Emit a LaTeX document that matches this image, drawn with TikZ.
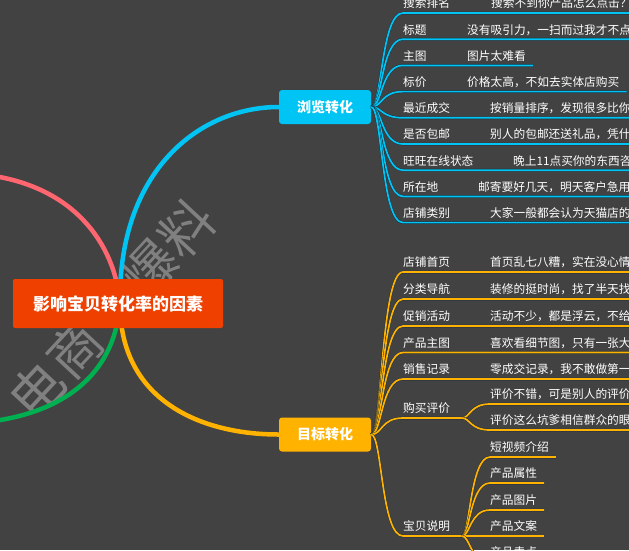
\documentclass[tikz,border=0pt]{standalone}
\usepackage{fontspec}
\setmainfont{Noto Sans CJK SC}
\usepackage{tikz}
\usetikzlibrary{positioning}
\definecolor{bggray}{RGB}{66,66,66}
\definecolor{rootred}{RGB}{239,64,0}
\definecolor{skyblue}{RGB}{0,196,244}
\definecolor{amber}{RGB}{255,178,0}
\definecolor{rosered}{RGB}{255,102,112}
\definecolor{leafgreen}{RGB}{0,176,80}
\definecolor{markgray}{RGB}{140,140,140}
\definecolor{lineedge}{RGB}{24,44,58}

\begin{document}
\begin{tikzpicture}[
x=1pt, y=-1pt,
every node/.style={font=\fontsize{11.7}{14}\selectfont, text=white},
root/.style={rectangle, rounded corners=2pt, fill=rootred, minimum width=210pt, minimum height=49pt, font=\fontsize{17}{20}\selectfont\bfseries},
topic/.style={rectangle, rounded corners=3pt, minimum width=92pt, minimum height=34pt, font=\fontsize{14}{16}\selectfont\bfseries},
item/.style={anchor=south west, inner xsep=0pt, inner ysep=3pt, text height=9pt, text depth=2pt},
wmark/.style={font=\fontsize{53}{53}\selectfont, text=markgray, rotate=47, text opacity=0.85},
trunk/.style={line width=4.5pt},
twig/.style={draw=lineedge, line width=0.4pt, double distance=1.7pt},
blueline/.style={twig, double=skyblue},
amberline/.style={twig, double=amber}
]

% Background

\fill[bggray] (0,0) rectangle (629,550);
\useasboundingbox (0,0) rectangle (629,550);

% Watermark

\foreach \ch/\k in {电/0,商/1,爆/3,料/4}
  \node[wmark] (wm\k) at ({37+37.5*\k},{390-40.5*\k}) {\ch};

% Main topics

\node[topic, fill=skyblue] (browse) at (325,107) {浏览转化};
\node[topic, fill=amber] (target) at (325,434.5) {目标转化};

\coordinate (hub) at (120,304);
\coordinate (pinkend) at (-6,176);
\coordinate (greenend) at (-6,421);

\draw[trunk, skyblue] (hub) .. controls (118,170) and (200,107) .. (browse.west);
\draw[trunk, amber] (hub) .. controls (120,400) and (200,434.5) .. (target.west);
\draw[trunk, rosered] (hub) .. controls (116,250) and (80,190) .. (pinkend);
\draw[trunk, leafgreen] (hub) .. controls (115,370) and (70,410) .. (greenend);

% Root

\node[root] (center) at (118,303.5) {影响宝贝转化率的因素};

% Browse branch

\node[item] (b1) at (403,13) {搜索排名};
\node[item] (b1v) at (491,13) {搜索不到你产品怎么点击？};
\draw[blueline] (browse.east) .. controls +(11,0) and +(-22,0) .. (b1.south west) -- ([xshift=7pt]b1v.south east);

\node[item] (b2) at (403,39.2) {标题};
\node[item] (b2v) at (467,39.2) {没有吸引力，一扫而过我才不点};
\draw[blueline] (browse.east) .. controls +(11,0) and +(-22,0) .. (b2.south west) -- ([xshift=7pt]b2v.south east);

\node[item] (b3) at (403,65.4) {主图};
\node[item] (b3v) at (467,65.4) {图片太难看};
\draw[blueline] (browse.east) .. controls +(11,0) and +(-22,0) .. (b3.south west) -- ([xshift=7pt]b3v.south east);

\node[item] (b4) at (403,91.6) {标价};
\node[item] (b4v) at (467,91.6) {价格太高，不如去实体店购买};
\draw[blueline] (browse.east) .. controls +(11,0) and +(-22,0) .. (b4.south west) -- ([xshift=7pt]b4v.south east);

\node[item] (b5) at (403,117.8) {最近成交};
\node[item] (b5v) at (490,117.8) {按销量排序，发现很多比你};
\draw[blueline] (browse.east) .. controls +(11,0) and +(-22,0) .. (b5.south west) -- ([xshift=7pt]b5v.south east);

\node[item] (b6) at (403,144) {是否包邮};
\node[item] (b6v) at (490,144) {别人的包邮还送礼品，凭什};
\draw[blueline] (browse.east) .. controls +(11,0) and +(-22,0) .. (b6.south west) -- ([xshift=7pt]b6v.south east);

\node[item] (b7) at (403,170.2) {旺旺在线状态};
\node[item] (b7v) at (513,170.2) {晚上11点买你的东西咨};
\draw[blueline] (browse.east) .. controls +(11,0) and +(-22,0) .. (b7.south west) -- ([xshift=7pt]b7v.south east);

\node[item] (b8) at (403,196.4) {所在地};
\node[item] (b8v) at (478,196.4) {邮寄要好几天，明天客户急用};
\draw[blueline] (browse.east) .. controls +(11,0) and +(-22,0) .. (b8.south west) -- ([xshift=7pt]b8v.south east);

\node[item] (b9) at (403,222.6) {店铺类别};
\node[item] (b9v) at (490,222.6) {大家一般都会认为天猫店的};
\draw[blueline] (browse.east) .. controls +(11,0) and +(-22,0) .. (b9.south west) -- ([xshift=7pt]b9v.south east);

% Target branch

\node[item] (t1) at (403,272) {店铺首页};
\node[item] (t1v) at (490,272) {首页乱七八糟，实在没心情};
\draw[amberline] (target.east) .. controls +(11,0) and +(-22,0) .. (t1.south west) -- ([xshift=7pt]t1v.south east);

\node[item] (t2) at (403,299) {分类导航};
\node[item] (t2v) at (490,299) {装修的挺时尚，找了半天找};
\draw[amberline] (target.east) .. controls +(11,0) and +(-22,0) .. (t2.south west) -- ([xshift=7pt]t2v.south east);

\node[item] (t3) at (403,326) {促销活动};
\node[item] (t3v) at (490,326) {活动不少，都是浮云，不给};
\draw[amberline] (target.east) .. controls +(11,0) and +(-22,0) .. (t3.south west) -- ([xshift=7pt]t3v.south east);

\node[item] (t4) at (403,352.5) {产品主图};
\node[item] (t4v) at (490,352.5) {喜欢看细节图，只有一张大};
\draw[amberline] (target.east) .. controls +(11,0) and +(-22,0) .. (t4.south west) -- ([xshift=7pt]t4v.south east);

\node[item] (t5) at (403,379) {销售记录};
\node[item] (t5v) at (490,379) {零成交记录，我不敢做第一};
\draw[amberline] (target.east) .. controls +(11,0) and +(-22,0) .. (t5.south west) -- ([xshift=7pt]t5v.south east);

% Reviews fork

\node[item] (t6) at (403,418) {购买评价};
\coordinate (fork6) at (462,418);
\draw[amberline] (target.east) .. controls +(11,0) and +(-22,0) .. (t6.south west) -- (fork6);
\node[item] (t6a) at (490,404) {评价不错，可是别人的评价};
\node[item] (t6b) at (490,430) {评价这么坑爹相信群众的眼};
\draw[amberline] (fork6) .. controls +(8,0) and +(-20,0) .. (t6a.south west) -- ([xshift=7pt]t6a.south east);
\draw[amberline] (fork6) .. controls +(8,0) and +(-20,0) .. (t6b.south west) -- ([xshift=7pt]t6b.south east);

% Description fork

\node[item] (t7) at (403,536) {宝贝说明};
\coordinate (fork7) at (462,536);
\draw[amberline] (target.east) .. controls +(11,0) and +(-22,0) .. (t7.south west) -- (fork7);
\node[item] (t7a) at (490,457) {短视频介绍};
\node[item] (t7b) at (490,483) {产品属性};
\node[item] (t7c) at (490,510) {产品图片};
\node[item] (t7d) at (490,536) {产品文案};
\node[item] (t7e) at (490,562) {产品卖点};
\draw[amberline] (fork7) .. controls +(8,0) and +(-20,0) .. (t7a.south west) -- ([xshift=7pt]t7a.south east);
\draw[amberline] (fork7) .. controls +(8,0) and +(-20,0) .. (t7b.south west) -- ([xshift=7pt]t7b.south east);
\draw[amberline] (fork7) .. controls +(8,0) and +(-20,0) .. (t7c.south west) -- ([xshift=7pt]t7c.south east);
\draw[amberline] (fork7) .. controls +(8,0) and +(-20,0) .. (t7d.south west) -- ([xshift=7pt]t7d.south east);
\draw[amberline] (fork7) .. controls +(8,0) and +(-20,0) .. (t7e.south west) -- ([xshift=7pt]t7e.south east);

\end{tikzpicture}
\end{document}
